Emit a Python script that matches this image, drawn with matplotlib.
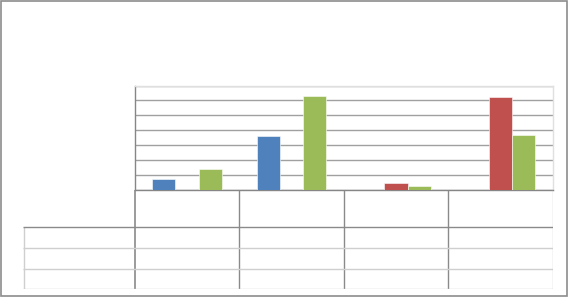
import matplotlib
matplotlib.use("Agg")
import matplotlib.pyplot as plt
from matplotlib.patches import Rectangle

# chart data (labels are blank in the source picture)
categories = ["", "", "", ""]
series_names = ["", "", ""]
blue_vals = [0.77, 3.62, 0.0, 0.0]
red_vals = [0.0, 0.0, 0.49, 6.22]
green_vals = [1.40, 6.30, 0.29, 3.70]
colors = ["#4F81BD", "#C0504D", "#9BBB59"]

W, H = 568, 297


def px_rect(x0, y0, x1, y1):
    """ Figure rect from pixel box measured from the top left. """
    return [x0 / W, (H - y1) / H, (x1 - x0) / W, (y1 - y0) / H]


def main():
    fig = plt.figure(figsize=(W / 100, H / 100), dpi=100)
    fig.patch.set_facecolor("white")
    fig.patches.append(Rectangle((0.5 / W, 1.5 / H), (W - 1.5) / W, (H - 2.5) / H,
                                 transform=fig.transFigure, fill=False,
                                 edgecolor="#8c8c8c", linewidth=1.2))

    # bar area
    ax = fig.add_axes(px_rect(134.7, 85.5, 552.7, 190.3))
    n = len(categories)
    width = 1 / 4.5
    series = [blue_vals, red_vals, green_vals]
    for k, vals in enumerate(series):
        xs = [i + (k - 1) * width for i in range(n)]
        ax.bar(xs, vals, width=width, color=colors[k], edgecolor="white",
               linewidth=0.4, label=series_names[k], zorder=3)
    ax.set_xlim(-0.5, n - 0.5)
    ax.set_ylim(0, 7)
    ax.set_yticks(range(0, 8))
    ax.set_xticks([])
    ax.tick_params(axis="y", length=0, labelleft=False)
    ax.grid(axis="y", color="#a0a0a0", linewidth=1, zorder=0)
    ax.spines["top"].set_color("#e0e0e0")
    ax.spines["right"].set_color("#e0e0e0")
    ax.spines["left"].set_color("#868686")
    ax.spines["bottom"].set_color("#868686")
    for s in ax.spines.values():
        s.set_linewidth(1)

    # data table below the bars
    left_px = 23.0
    unit = (552.7 - 134.7) / n
    lab_edge = -0.5 - (134.7 - left_px) / unit
    tab = fig.add_axes(px_rect(left_px, 190.3, 552.7, 289.3))
    tab.set_xlim(lab_edge, n - 0.5)
    tab.set_ylim(0, 99.0)
    tab.axis("off")
    dark = "#8a8a8a"
    light = "#cfcfcf"
    row_tops = [62.3, 41.0, 20.3, 0.0]  # header bottom and row lines, from top
    # vertical lines
    tab.vlines([-0.5 + i for i in range(1, n)], 0, 99, color=dark, lw=1)
    tab.vlines([-0.5], 0, 99, color=dark, lw=1.2)
    tab.vlines([n - 0.5], 0, 99, color=light, lw=1)
    tab.vlines([lab_edge + 0.01], 0, row_tops[0], color=light, lw=1)
    for j, y in enumerate(row_tops):
        c = dark if j == 0 else light
        tab.hlines(y + (0.5 if j == 3 else 0), lab_edge, n - 0.5, color=c, lw=1)
    for i, cat in enumerate(categories):
        tab.text(i, 80, cat, ha="center", va="center", fontsize=8)
    for j, name in enumerate(series_names):
        tab.text(lab_edge + 0.1, (row_tops[j] + row_tops[j + 1]) / 2, name,
                 ha="left", va="center", fontsize=8)

    fig.savefig("out.png", dpi=100)


if __name__ == "__main__":
    main()
